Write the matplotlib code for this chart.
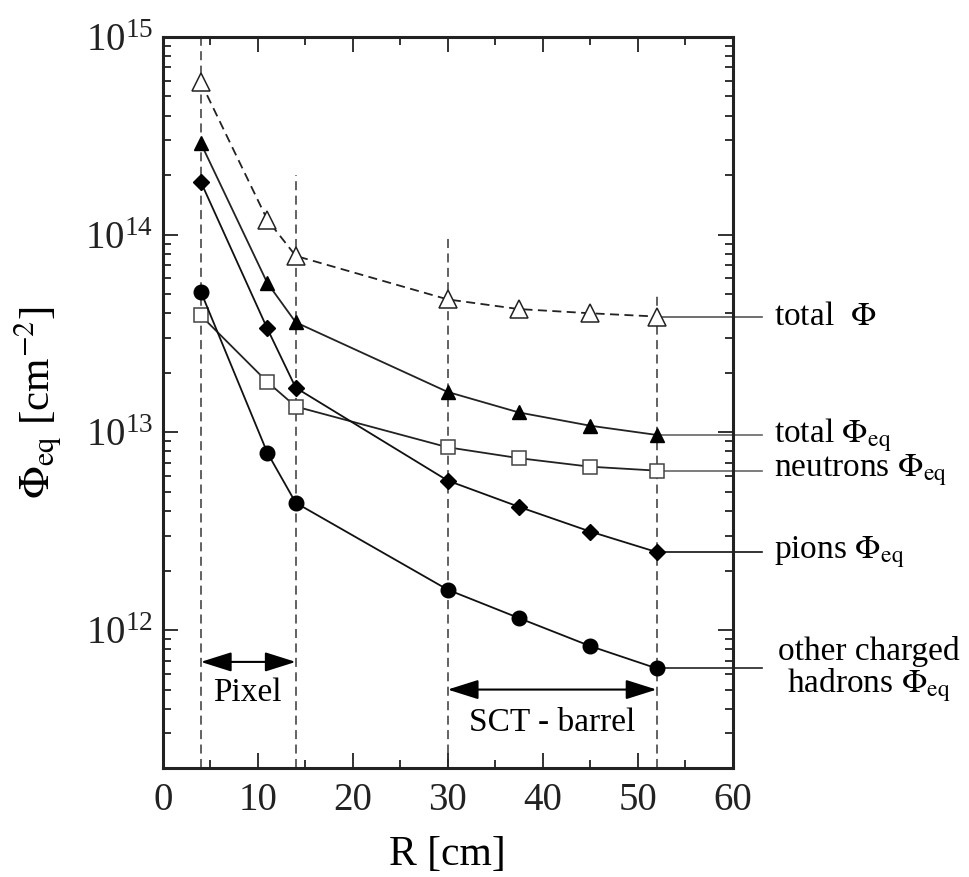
#!/usr/bin/env python3
# radiation fluence vs radius, ATLAS inner detector style plot
import matplotlib
matplotlib.use('Agg')
import matplotlib.pyplot as plt
from matplotlib.ticker import MultipleLocator, LogLocator, NullFormatter

plt.rcParams['font.family'] = ['Liberation Serif', 'DejaVu Serif']
plt.rcParams['mathtext.fontset'] = 'stix'

# data
R = [4, 11, 14, 30, 37.5, 45, 52]
total_phi = [5.9e14, 1.19e14, 7.8e13, 4.7e13, 4.2e13, 4.0e13, 3.85e13]
total_eq = [2.9e14, 5.7e13, 3.6e13, 1.6e13, 1.26e13, 1.08e13, 9.7e12]
neutrons_eq = [3.9e13, 1.8e13, 1.35e13, 8.4e12, 7.4e12, 6.7e12, 6.4e12]
pions_eq = [1.85e14, 3.35e13, 1.68e13, 5.7e12, 4.2e12, 3.15e12, 2.48e12]
other_eq = [5.15e13, 7.9e12, 4.4e12, 1.6e12, 1.15e12, 8.3e11, 6.4e11]

# detector region boundaries and the top of each dashed marker line
boundary_R = [4, 14, 30, 52]
boundary_top = [1e15, 2e14, 1e14, 5e13]

labels = ['total  $\\Phi$', 'total $\\Phi_{\\mathrm{eq}}$',
          'neutrons $\\Phi_{\\mathrm{eq}}$', 'pions $\\Phi_{\\mathrm{eq}}$',
          'other charged\nhadrons $\\Phi_{\\mathrm{eq}}$']

fig = plt.figure(figsize=(9.69, 8.77), dpi=100)
ax = fig.add_axes([0.168, 0.124, 0.588, 0.834])
ax.set_yscale('log')
ax.set_xlim(0, 60)
ax.set_ylim(2e11, 1e15)

# dashed region lines
for xb, top in zip(boundary_R, boundary_top):
    ax.plot([xb, xb], [2e11, top], color='#555555', lw=1.3,
            dashes=(5, 3), zorder=1)

# series
ax.plot(R, total_phi, color='#222222', lw=1.3, dashes=(5, 3), marker='^',
        ms=13, mfc='white', mec='#222222', mew=1.1, zorder=3)
ax.plot(R, total_eq, color='#222222', lw=1.3, marker='^', ms=10,
        mfc='black', mec='black', zorder=3)
ax.plot(R, neutrons_eq, color='#222222', lw=1.3, marker='s', ms=9.5,
        mfc='white', mec='#444444', mew=1.1, zorder=3)
ax.plot(R, pions_eq, color='#111111', lw=1.3, marker='D', ms=8,
        mfc='black', mec='black', zorder=3)
ax.plot(R, other_eq, color='#111111', lw=1.3, marker='o', ms=10.5,
        mfc='black', mec='black', zorder=3)

# label leader lines + texts on the right
ends = [total_phi[-1], total_eq[-1], neutrons_eq[-1], pions_eq[-1], other_eq[-1]]
line_cols = ['#555555', '#666666', '#666666', '#111111', '#222222']
for i, (yv, txt) in enumerate(zip(ends, labels)):
    ax.plot([52, 63.1], [yv, yv], color=line_cols[i], lw=1.2,
            clip_on=False, zorder=2)
    if i < 4:
        ax.text(64.4, yv, txt, fontsize=24, ha='left', va='center',
                clip_on=False)
    else:
        ax.text(74.4, yv * 0.98, txt, fontsize=24, ha='center', va='center',
                multialignment='center', clip_on=False, linespacing=1.0)

# region arrows
arrow_kw = dict(arrowstyle='<|-|>,head_length=0.95,head_width=0.3',
                color='black', lw=1.5, mutation_scale=20,
                shrinkA=0, shrinkB=0)
ax.annotate('', xy=(4, 6.9e11), xytext=(14, 6.9e11), arrowprops=arrow_kw)
ax.annotate('', xy=(30, 5.0e11), xytext=(52, 5.0e11), arrowprops=arrow_kw)
ax.text(8.9, 4.8e11, 'Pixel', fontsize=24, ha='center', va='center')
ax.text(41, 3.4e11, 'SCT - barrel', fontsize=24, ha='center', va='center')

# axes styling
ax.xaxis.set_major_locator(MultipleLocator(10))
ax.xaxis.set_minor_locator(MultipleLocator(5))
ax.yaxis.set_major_locator(LogLocator(base=10))
ax.yaxis.set_minor_locator(LogLocator(base=10, subs=range(2, 10)))
ax.yaxis.set_minor_formatter(NullFormatter())
ax.tick_params(which='both', direction='in', top=True, right=True,
               width=1.3, colors='#222222')
ax.tick_params(which='major', length=11)
ax.tick_params(which='minor', length=6)
ax.tick_params(axis='x', which='major', labelsize=28, pad=10)
ax.tick_params(axis='y', which='major', labelsize=28, pad=7)
for s in ax.spines.values():
    s.set_linewidth(2.2)
    s.set_color('#222222')

ax.set_xlabel('R [cm]', fontsize=30, labelpad=12)
ax.set_ylabel('$\\Phi_{\\mathrm{eq}}$ [cm$^{-2}$]', fontsize=31)
ax.yaxis.set_label_coords(-0.172, 0.5)

fig.savefig('out.png', dpi=100)
print('saved out.png')
